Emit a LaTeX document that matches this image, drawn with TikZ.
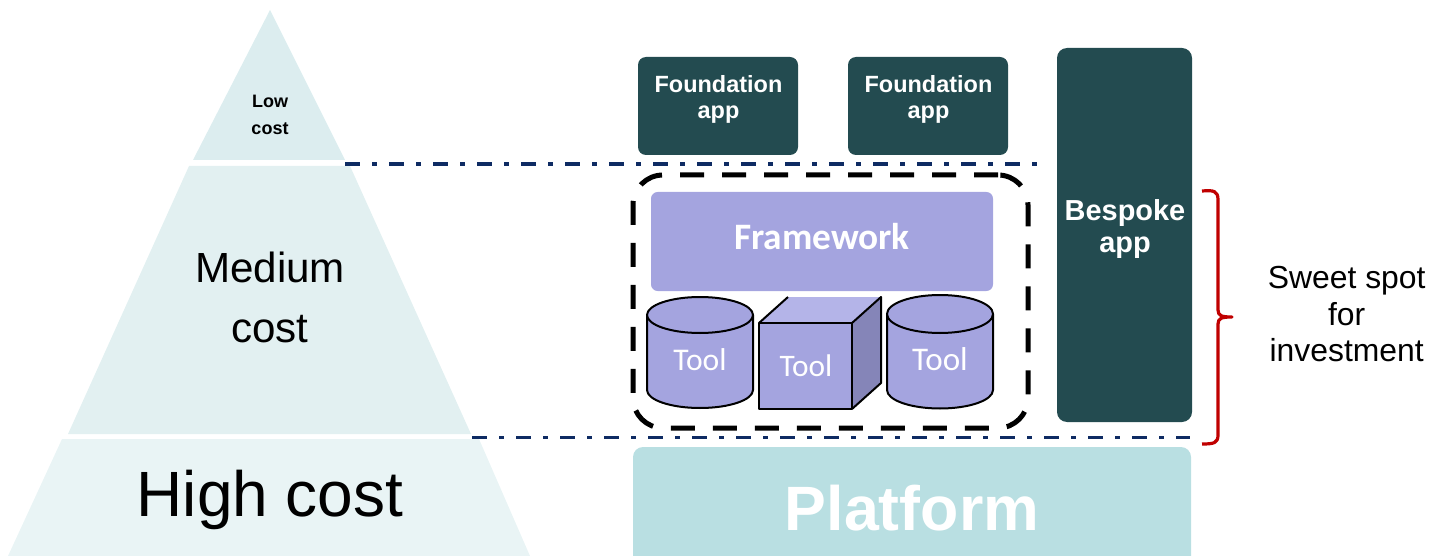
\documentclass[tikz,border=0pt]{standalone}
\usepackage{fontspec}
\setmainfont{Liberation Sans}
\newfontfamily\calfont{Carlito}
\definecolor{pyrlow}{HTML}{DCEDEF}
\definecolor{pyrmed}{HTML}{E2F0F1}
\definecolor{pyrhigh}{HTML}{E9F4F5}
\definecolor{appteal}{HTML}{234B50}
\definecolor{platcol}{HTML}{B9DFE2}
\definecolor{lav}{HTML}{A4A4DF}
\definecolor{lavtop}{HTML}{B4B4E8}
\definecolor{lavside}{HTML}{8585B8}
\definecolor{navy}{HTML}{0E2B63}
\definecolor{bred}{HTML}{C00000}
\tikzset{
  appbox/.style={rectangle, fill=appteal, draw=none, rounded corners=6pt, inner sep=0pt},
  lbl/.style={inner sep=0pt, outer sep=0pt, align=center},
  whitelbl/.style={lbl, text=white},
  dashdotline/.style={draw=navy, line width=2.7pt, dash pattern=on 11.25pt off 9pt on 3.75pt off 9pt},
  toolshape/.style={fill=lav, draw=black, line width=1.5pt, line join=round},
}
\begin{document}
\begin{tikzpicture}[x=0.75pt,y=-0.75pt]
\useasboundingbox (0,0) rectangle (1432,556);
% pyramid
\fill[pyrlow] (270,10) -- (345,160) -- (193,160) -- cycle;
\fill[pyrmed] (189,166) -- (350,166) -- (471,434) -- (68,434) -- cycle;
\fill[pyrhigh] (62,439) -- (479,439) -- (530,556) -- (8,556) -- cycle;
\node[lbl, font=\bfseries\fontsize{13.5}{20.25}\selectfont] (lowt) at (270,114.5) {Low\\cost};
\node[lbl, font=\fontsize{31.6}{45}\selectfont] (medt) at (270,297) {Medium\\cost};
\node[lbl, font=\fontsize{48}{58}\selectfont, anchor=base] (hight) at (270,516) {High cost};
% level lines
\coordinate (l1a) at (345,164);
\coordinate (l1b) at (1040,164);
\coordinate (l2a) at (472,437.5);
\coordinate (l2b) at (1190,437.5);
\draw[dashdotline] (l1a) -- (l1b);
\draw[dashdotline] (l2a) -- (l2b);
% foundation apps
\node[appbox, minimum width=120pt, minimum height=73.5pt] (fa1) at (718,106) {};
\node[appbox, minimum width=120pt, minimum height=73.5pt] (fa2) at (928,106) {};
\node[whitelbl, font=\bfseries\fontsize{17.6}{20}\selectfont] (fa1t) at (718.5,99.5) {Foundation\\app};
\node[whitelbl, font=\bfseries\fontsize{17.6}{20}\selectfont] (fa2t) at (928.5,99.5) {Foundation\\app};
% bespoke
\node[appbox, rounded corners=7.5pt, minimum width=101.25pt, minimum height=280.5pt] (bes) at (1124.5,235) {};
\node[whitelbl, font=\bfseries\fontsize{21.7}{24}\selectfont] (best) at (1125,229.5) {Bespoke\\app};
% platform
\node[rectangle, fill=platcol, rounded corners=7.5pt, inner sep=0pt, minimum width=418.5pt, minimum height=114.75pt] (plat) at (912,523.5) {};
\node[whitelbl, font=\bfseries\fontsize{47}{56}\selectfont, anchor=base] (platt) at (912,530) {Platform};
% dashed group
\node[rectangle, draw=black, line width=3.75pt, dash pattern=on 18pt off 13.5pt, rounded corners=22.5pt, minimum width=296.25pt, minimum height=189.75pt, inner sep=0pt] (grp) at (830.5,301.5) {};
% framework
\node[rectangle, fill=lav, rounded corners=5pt, minimum width=256.5pt, minimum height=74.25pt, inner sep=0pt] (fw) at (822,241.5) {};
\node[whitelbl, font=\calfont\bfseries\fontsize{28}{32}\selectfont, anchor=base] (fwt) at (822,249) {Framework};
% left cylinder
\filldraw[toolshape] (647,315) -- (647,390) arc[start angle=180,end angle=0,x radius=53,y radius=18] -- (753,315) -- cycle;
\filldraw[toolshape] (700,315) ellipse[x radius=53,y radius=18];
\node[whitelbl, font=\calfont\fontsize{23.7}{28}\selectfont, anchor=base] (tool1) at (700,370) {Tool};
% right cylinder
\filldraw[toolshape] (887,314) -- (887,390) arc[start angle=180,end angle=0,x radius=53,y radius=18.5] -- (993,314) -- cycle;
\filldraw[toolshape] (940,314) ellipse[x radius=53,y radius=19];
\node[whitelbl, font=\calfont\fontsize{24.8}{29}\selectfont, anchor=base] (tool3) at (940,370.7) {Tool};
% cube
\fill[lavtop] (759,323) -- (788,297) -- (881,297) -- (852,323) -- cycle;
\fill[lavside] (852,323) -- (881,297) -- (881,383) -- (852,409) -- cycle;
\fill[lav] (759,323) rectangle (852,409);
\draw[black, line width=1.5pt, line join=round] (759,323) rectangle (852,409);
\draw[black, line width=1.5pt, line join=round] (759,323) -- (788,297);
\draw[black, line width=1.5pt, line join=round] (852,323) -- (881,297) -- (881,383) -- (852,409);
\node[whitelbl, font=\calfont\fontsize{23.5}{28}\selectfont, anchor=base] (tool2) at (806,376.7) {Tool};
% bracket
\draw[bred, line width=2.4pt, line cap=butt, line join=round]
  (1202,191) .. controls (1214,190) and (1218,191) .. (1218,200) -- (1218,310)
  .. controls (1218,316) and (1222,317) .. (1232,317)
  .. controls (1222,317) and (1218,318) .. (1218,324) -- (1218,435)
  .. controls (1218,443) and (1214,444) .. (1202,444);
\node[lbl, font=\fontsize{23.9}{27.5}\selectfont] (sweet) at (1346.7,314.3) {Sweet spot\\for\\investment};
\end{tikzpicture}
\end{document}
